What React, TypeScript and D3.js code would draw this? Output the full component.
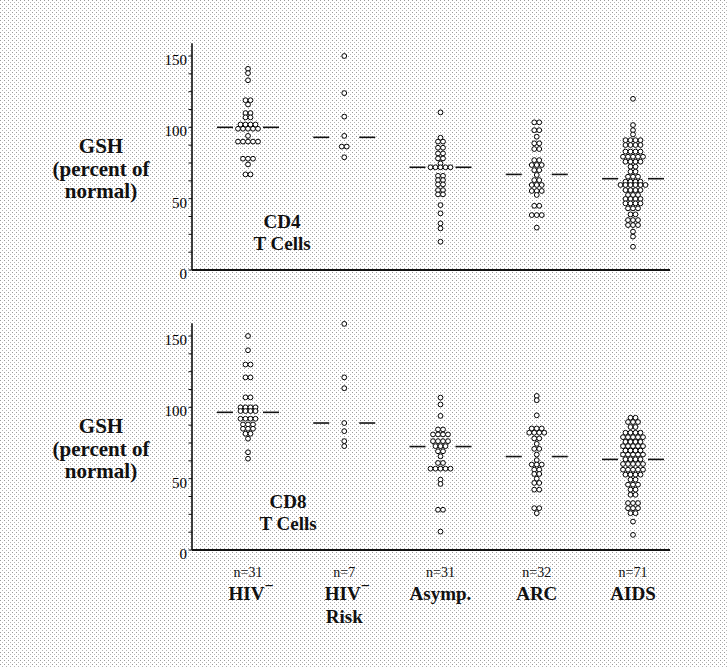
import React from 'react';
import * as d3 from 'd3';

// groups along the x axis
const groups = ['HIV-', 'HIV- Risk', 'Asymp.', 'ARC', 'AIDS'];
const groupN = ['n=31', 'n=7', 'n=31', 'n=32', 'n=71'];

// CD4 T cells, GSH percent of normal
const cd4HIVneg = [141, 138, 133, 119, 119, 116, 110, 110, 107, 107, 102, 102, 102, 102, 99, 99, 99, 99, 99, 94, 90, 90, 90, 90, 90, 78, 78, 78, 74, 67, 67];
const cd4Risk = [150, 124, 107.5, 94, 86.5, 86.5, 79];
const cd4Asymp = [110.5, 92.7, 90, 90, 85.7, 85.7, 81.7, 81.7, 78.2, 78.2, 74.7, 72, 72, 72, 72, 72, 66, 66, 63, 63, 60, 60, 56, 56, 53, 53, 45.5, 39.7, 32.7, 29.2, 19.8];
const cd4ARC = [103.5, 103.5, 98, 98, 93.4, 88.8, 88.8, 84.8, 84.8, 77, 77, 73.6, 73.6, 73.6, 70, 70, 66.6, 63, 63, 59.6, 59.6, 59.6, 55.4, 55.4, 55.4, 52.6, 45, 45, 38.5, 38.5, 38.5, 29.7];
const cd4AIDS = [120, 101.6, 98, 95, 91, 91, 91, 91, 87.6, 87.6, 87.6, 87.6, 83, 83, 83, 83, 79.4, 79.4, 79.4, 79.4, 79.4, 75.9, 75.9, 75.9, 75.9, 72.4, 72.4, 68.9, 68.9, 65.4, 65.4, 65.4, 61.9, 61.9, 61.9, 61.9, 59.6, 59.6, 59.6, 59.6, 59.6, 59.6, 56, 56, 56, 56, 52.6, 52.6, 52.6, 49.8, 49.8, 49.8, 49.8, 46.7, 46.7, 46.7, 46.7, 43.2, 43.2, 43.2, 39, 39, 35, 35, 35, 31.5, 31.5, 31.5, 26.9, 23.4, 16.3];
const cd4Means = [100, 93, 72, 67, 64];

// CD8 T cells
const cd8HIVneg = [150, 140, 130, 130, 121, 121, 107, 107, 100, 100, 100, 100, 97.4, 97.4, 97.4, 97.4, 92, 92, 92, 92, 88, 88, 88, 85, 85, 85, 81.5, 81.5, 78, 68.5, 64];
const cd8Risk = [158.5, 121, 113.4, 89, 83.3, 76.3, 72.8];
const cd8Asymp = [106.8, 102, 94, 84.5, 84.5, 81, 81, 81, 81, 76.3, 76.3, 76.3, 76.3, 72.8, 72.8, 72.8, 69.2, 69.2, 65.7, 61, 61, 57, 57, 57, 57, 57, 49.3, 46.3, 28.2, 28.2, 12.9];
const cd8ARC = [108, 105, 94.4, 85.2, 85.2, 85.2, 82.2, 82.2, 82.2, 82.2, 78.2, 78.2, 74.4, 70.9, 70.9, 66.9, 63, 59.9, 59.9, 59.9, 56.3, 56.3, 53.3, 53.3, 50, 47, 47, 42.3, 42.3, 29.3, 29.3, 25.8];
const cd8AIDS = [92.7, 92.7, 89.7, 89.7, 89.7, 86.2, 86.2, 82.2, 82.2, 82.2, 82.2, 79.1, 79.1, 79.1, 79.1, 79.1, 75.8, 75.8, 75.8, 75.8, 72.8, 72.8, 72.8, 72.8, 72.8, 69.7, 69.7, 69.7, 69.7, 66.9, 66.9, 66.9, 66.9, 66.9, 63.6, 63.6, 63.6, 63.6, 60.3, 60.3, 60.3, 60.3, 60.3, 56.3, 56.3, 56.3, 56.3, 56.3, 52.8, 52.8, 52.8, 52.8, 49.3, 49.3, 45.8, 45.8, 45.8, 42.3, 42.3, 38.7, 38.7, 32.9, 32.9, 32.9, 29.3, 29.3, 29.3, 25.8, 25.8, 19.9, 10.6];
const cd8Means = [96.5, 89, 72.5, 65.5, 63.5];

const yTickLabels = [0, 50, 100, 150];

const W = 727;
const H = 668;
const FONT = '"Liberation Serif", "DejaVu Serif", serif';

const x = d3.scalePoint<string>().domain(groups).range([248, 633]);

const Panel = ({ top, data, means, title }: { top: number; data: number[][]; means: number[]; title: string }) => {
  const y = d3.scaleLinear().domain([0, 150]).range([top + 214, top]);
  const axisX = 192;
  const minor = d3.range(0, 151, 12.5);
  const step = 5;
  const tx = title === 'CD4' ? 282 : 288;
  return (
    <g>
      {/* axes */}
      <line x1={axisX} x2={axisX} y1={y(159)} y2={y(0)} stroke="#111" strokeWidth={1.6} />
      <line x1={axisX} x2={670} y1={y(0)} y2={y(0)} stroke="#111" strokeWidth={1.8} />
      {minor.map((t) => (
        <line key={t} x1={axisX - 3.5} x2={axisX} y1={y(t)} y2={y(t)} stroke="#111" strokeWidth={1} />
      ))}
      {yTickLabels.map((t) => (
        <text key={t} x={axisX - 5} y={y(t) + 9} textAnchor="end" fontSize={15} fontFamily={FONT} fill="#000">
          {t}
        </text>
      ))}
      {/* dots */}
      {data.map((vals, gi) => {
        const cx = x(groups[gi])!;
        const rows = d3.groups(vals, (v) => v);
        return rows.map(([v, arr]) =>
          arr.map((_, i) => (
            <circle
              key={`${gi}-${v}-${i}`}
              cx={cx + (i - (arr.length - 1) / 2) * step}
              cy={y(v)}
              r={2.4}
              fill="#fff"
              stroke="#000"
              strokeWidth={1}
            />
          ))
        );
      })}
      {/* mean bars */}
      {means.map((m, gi) => {
        const cx = x(groups[gi])!;
        return (
          <g key={gi}>
            <line x1={cx - 31} x2={cx - 15} y1={y(m)} y2={y(m)} stroke="#111" strokeWidth={1.6} />
            <line x1={cx + 15} x2={cx + 31} y1={y(m)} y2={y(m)} stroke="#111" strokeWidth={1.6} />
          </g>
        );
      })}
      {/* cell type */}
      <text x={tx} y={top + 172} textAnchor="middle" fontSize={19} fontWeight="bold" fontFamily={FONT} fill="#111">
        {title}
      </text>
      <text x={tx} y={top + 194} textAnchor="middle" fontSize={19} fontWeight="bold" fontFamily={FONT} fill="#111">
        T Cells
      </text>
      {/* y label */}
      {['GSH', '(percent of', 'normal)'].map((s, i) => (
        <text key={s} x={101} y={top + 97 + i * 22.5} textAnchor="middle" fontSize={21} fontWeight="bold" fontFamily={FONT} fill="#111">
          {s}
        </text>
      ))}
    </g>
  );
};

export default function App() {
  return (
    <svg width={W} height={H} style={{ position: 'absolute', left: 0, top: 0, background: '#fff' }}>
      <defs>
        <pattern id="halftone" width={4} height={4} patternUnits="userSpaceOnUse">
          <rect x={0} y={0} width={1} height={1} fill="#9a9a9a" />
          <rect x={2} y={2} width={1} height={1} fill="#b5b5b5" />
        </pattern>
      </defs>
      <rect width={W} height={H} fill="url(#halftone)" />
      <Panel top={56} data={[cd4HIVneg, cd4Risk, cd4Asymp, cd4ARC, cd4AIDS]} means={cd4Means} title="CD4" />
      <Panel top={336} data={[cd8HIVneg, cd8Risk, cd8Asymp, cd8ARC, cd8AIDS]} means={cd8Means} title="CD8" />
      {groups.map((g, i) => {
        const cx = x(g)!;
        const risk = g === 'HIV- Risk';
        const neg = g.startsWith('HIV');
        return (
          <g key={g} fontFamily={FONT} fill="#111" textAnchor="middle">
            <text x={cx} y={577} fontSize={14}>{groupN[i]}</text>
            <text x={neg ? cx + 3 : cx} y={600} fontSize={19} fontWeight="bold">
              {neg ? 'HIV' : g}
              {neg && (
                <tspan dy={-9} fontSize={16}>
                  −
                </tspan>
              )}
            </text>
            {risk && (
              <text x={cx} y={623} fontSize={19} fontWeight="bold">
                Risk
              </text>
            )}
          </g>
        );
      })}
    </svg>
  );
}
